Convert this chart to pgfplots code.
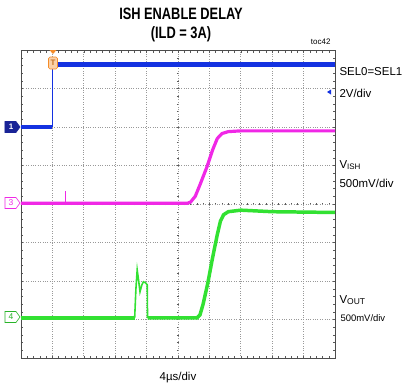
\documentclass[border=0pt]{standalone}
\usepackage{pgfplots}
\pgfplotsset{compat=1.18}
\usepackage{fontspec}
\setmainfont{Liberation Sans}
\definecolor{cblue}{RGB}{20,50,225}
\definecolor{cnavy}{RGB}{25,35,150}
\definecolor{cmag}{RGB}{240,40,230}
\definecolor{cgreen}{RGB}{50,225,50}
\definecolor{corange}{RGB}{245,140,40}
\begin{document}
\begin{tikzpicture}[x=1bp,y=1bp]
\useasboundingbox (-21,-32) rectangle (383,358);
% centre ticks (decoration, drawn beneath data)
\foreach \k in {0,...,40} {
  \draw[gray!70!black, line width=0.4pt] (155.8,\k*7.7) -- (158.2,\k*7.7);
}
\foreach \k in {0,...,50} {
  \draw[gray!70!black, line width=0.4pt] (\k*6.28,152.8) -- (\k*6.28,155.2);
}
\begin{axis}[
  at={(0,0)}, anchor=south west,
  scale only axis, width=314bp, height=308bp,
  xmin=0, xmax=10, ymin=0, ymax=8,
  xtick={0,...,10}, ytick={0,...,8},
  minor x tick num=4, minor y tick num=4,
  xticklabels={}, yticklabels={},
  tick align=inside,
  major tick length=2.5bp, minor tick length=2.5bp,
  tick style={gray!70!black, line width=0.4pt},
  grid=major,
  major grid style={gray!80, dotted, line width=0.7pt},
  axis line style={gray!60!black, line width=0.8pt},
  clip=false,
]
% channel 1 (blue)
\addplot[cblue, line width=4pt] coordinates {(0,6.0) (1.0,6.0)};
\addplot[cblue, line width=1pt] coordinates {(1.0,6.0) (1.0,7.62)};
\addplot[cblue, line width=4.5pt] coordinates {(1.0,7.62) (10,7.62)};
% channel 3 (magenta)
\addplot[cmag, line width=3.2pt] coordinates {
 (0,4.02) (1.40,4.02) (5.30,4.02) (5.40,4.05) (5.55,4.2) (5.70,4.5)
 (5.92,4.96) (6.10,5.4) (6.25,5.7) (6.40,5.83) (6.60,5.88) (7.0,5.9) (10,5.9)};
\addplot[cmag, line width=0.8pt] coordinates {(1.42,4.02) (1.42,4.35)};
% channel 4 (green)
\addplot[cgreen, line width=3.5pt] coordinates {
 (0,1.04) (3.62,1.04)};
\addplot[cgreen, line width=1.6pt] coordinates {
 (3.62,1.04) (3.66,1.8) (3.70,2.29) (3.74,2.05) (3.79,1.72) (3.85,1.9) (3.90,1.98) (3.97,1.95) (4.02,1.9) (4.03,1.04)};
\addplot[cgreen, line width=3.5pt] coordinates {
 (4.03,1.04) (5.60,1.04) (5.70,1.12) (5.80,1.4) (5.95,1.95) (6.10,2.6) (6.25,3.2)
 (6.35,3.55) (6.45,3.72) (6.60,3.80) (7.0,3.84) (8.0,3.8) (10,3.78)};
\end{axis}
% title
\node[font=\bfseries\fontsize{16.5}{19}\selectfont] at (160,344) {\scalebox{0.78}[1]{ISH ENABLE DELAY}};
\node[font=\bfseries\fontsize{16.5}{19}\selectfont] at (160,324) {\scalebox{0.78}[1]{(ILD = 3A)}};
\node[font=\fontsize{8}{9}\selectfont, anchor=east] at (313,316) {toc42};
% right labels
\node[font=\fontsize{11.5}{13}\selectfont, anchor=west] at (315,286) {SEL0=SEL1};
\node[font=\fontsize{11.5}{13}\selectfont, anchor=west] at (315,265) {2V/div};
\fill[cblue] (306,266) -- (310,268.5) -- (310,263.5) -- cycle;
\node[font=\fontsize{11.5}{13}\selectfont, anchor=west] at (315,193) {V\textsubscript{\fontsize{8}{9}\selectfont ISH}};
\node[font=\fontsize{11.5}{13}\selectfont, anchor=west] at (315,175) {500mV/div};
\node[font=\fontsize{11.5}{13}\selectfont, anchor=west] at (315,58) {V\textsubscript{\fontsize{8.5}{9}\selectfont OUT}};
\node[font=\fontsize{9.5}{11}\selectfont, anchor=west] at (316,40) {500mV/div};
% bottom label
\node[font=\fontsize{11.5}{13}\selectfont] at (157,-20) {4µs/div};
% channel tags
\filldraw[cnavy, fill=cnavy, line width=0.6pt] (-16,225.5) -- (-5,225.5) -- (-1,231) -- (-5,236.5) -- (-16,236.5) -- cycle;
\node[white, font=\bfseries\fontsize{8}{9}\selectfont] at (-10,231) {1};
\draw[cmag, fill=white, line width=0.6pt] (-16,149.5) -- (-5,149.5) -- (-1,155) -- (-5,160.5) -- (-16,160.5) -- cycle;
\node[cmag, font=\fontsize{8.5}{9}\selectfont] at (-10,155) {3};
\draw[cgreen!80!black, fill=white, line width=0.6pt] (-16,35.5) -- (-5,35.5) -- (-1,41) -- (-5,46.5) -- (-16,46.5) -- cycle;
\node[cgreen!80!black, font=\fontsize{8.5}{9}\selectfont] at (-10,41) {4};
% trigger marker
\fill[corange] (28.5,308) -- (35.5,308) -- (32,304) -- cycle;
\filldraw[draw=corange, fill=corange!40, line width=0.6pt, rounded corners=1.5pt] (27.5,289) rectangle (36.5,301);
\node[corange!80!black, font=\bfseries\fontsize{8}{9}\selectfont] at (32,295) {T};
\end{tikzpicture}
\end{document}
